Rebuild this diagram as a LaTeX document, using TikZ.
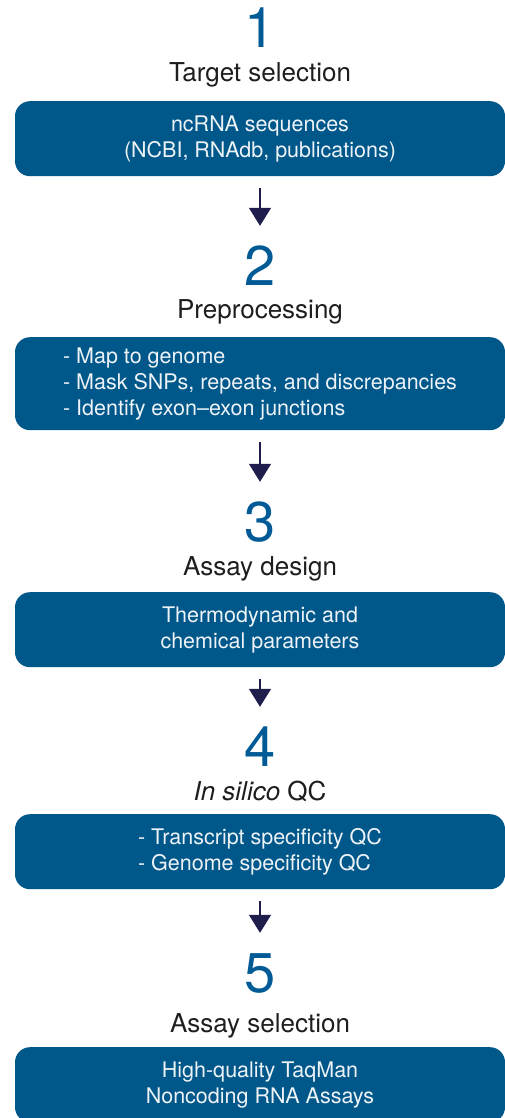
\documentclass[tikz,border=0pt]{standalone}
\usepackage{fontspec}
\setmainfont{TeX Gyre Heros}
\usetikzlibrary{arrows.meta}

\definecolor{boxblue}{HTML}{00578A}
\definecolor{numblue}{HTML}{005A95}
\definecolor{arrownavy}{HTML}{1E1D4C}
\definecolor{titleblack}{HTML}{1F1E1F}
\definecolor{boxtext}{HTML}{EEF3F8}

\tikzset{%
	step number/.style={
		inner sep=0pt,
		anchor=base,
		text height=40pt,
		text depth=0pt,
		text=numblue,
		font=\fontsize{56}{60}\selectfont
	},
	step title/.style={
		inner sep=0pt,
		anchor=base,
		text=titleblack,
		font=\fontsize{26}{30}\selectfont
	},
	step box/.style={
		anchor=north,
		fill=boxblue,
		rounded corners=15pt,
		minimum width=490pt,
		minimum height=75pt,
		inner sep=0pt,
		text=boxtext,
		font=\fontsize{21.5}{26}\selectfont
	},
	flow/.style={
		-{Triangle[length=18pt,width=22pt]},
		draw=arrownavy,
		line width=1.4pt,
		shorten <=12pt,
		shorten >=19pt
	},
}

\begin{document}
\begin{tikzpicture}[x=1pt, y=-1pt]
	
	\useasboundingbox (0,0) rectangle (505,1118);
	
	\foreach \n/\yb in {1/48, 2/285, 3/541, 4/766, 5/992}
	\node [step number] (number-\n) at (260,\yb) {\n};
	
	\foreach \t/\yb [count=\n] in {Target selection/82, Preprocessing/318, Assay design/575, {\textit{In silico} QC}/800, Assay selection/1032}
	\node [step title] (title-\n) at (260,\yb) {\t};
	
	\node [step box, align=center] (box-1) at (260,101)
	{ncRNA sequences\\(NCBI, RNAdb, publications)};
	
	\node [step box, align=left, minimum height=93pt] (box-2) at (260,337)
	{- Map to genome\\- Mask SNPs, repeats, and discrepancies\\- Identify exon–exon junctions};
	
	\node [step box, align=center] (box-3) at (260,592)
	{Thermodynamic and\\chemical parameters};
	
	\node [step box, align=left] (box-4) at (260,814)
	{- Transcript specificity QC\\- Genome specificity QC};
	
	\node [step box, align=center] (box-5) at (260,1047)
	{High-quality TaqMan\\Noncoding RNA Assays};
	
	\foreach \i/\j in {1/2, 2/3, 3/4, 4/5}
	\draw [flow] (box-\i) -- (number-\j);
	
\end{tikzpicture}
\end{document}
